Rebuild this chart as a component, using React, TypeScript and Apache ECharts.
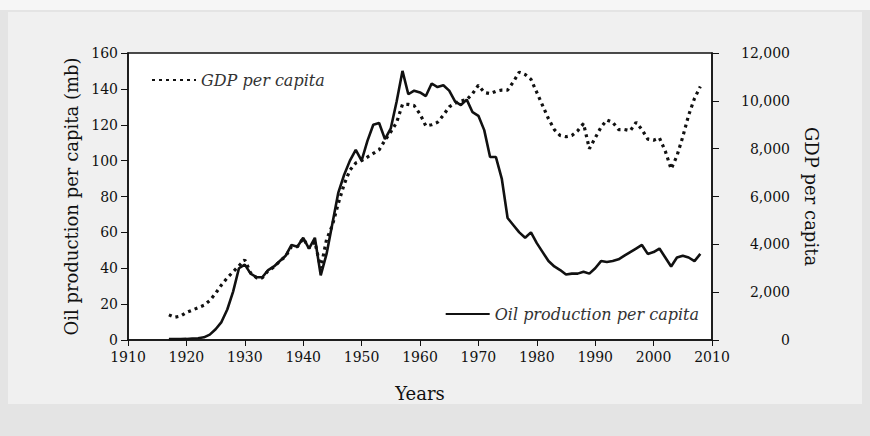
import React, { useEffect, useRef } from "react";
import * as echarts from "echarts";

const years: number[] = [];
for (let y = 1917; y <= 2008; y++) years.push(y);

const oilPerCapita = [
  0.5, 0.5, 0.5, 0.6, 0.8, 1.0, 1.5, 3, 6, 10,
  17, 27, 40, 42, 37, 35, 35, 39, 41, 44,
  47, 53, 52, 57, 51, 57, 36, 48, 65, 82,
  92, 100, 106, 100, 111, 120, 121, 112, 118, 133,
  150, 137, 139, 138, 136, 143, 141, 142, 139, 133,
  131, 134, 127, 125, 117, 102, 102, 90, 68, 64,
  60, 57, 60, 54, 49, 44, 41, 39, 36.5, 37,
  37, 38, 37, 40, 44, 43.5, 44, 45, 47, 49,
  51, 53, 48, 49, 51, 46, 41, 46, 47, 46,
  44, 48,
];

const gdpPerCapita = [
  1050, 950, 1000, 1150, 1250, 1350, 1450, 1650, 1950, 2300,
  2600, 2850, 3100, 3350, 2800, 2600, 2600, 2900, 3050, 3300,
  3500, 3900, 3900, 4250, 3850, 4100, 3000, 4200, 4800, 5700,
  6500, 7100, 7400, 7500, 7650, 7800, 7950, 8350, 8700, 9100,
  9850, 9850, 9800, 9450, 8950, 9000, 9100, 9400, 9750, 9900,
  10000, 10050, 10300, 10650, 10350, 10300, 10400, 10450, 10450, 10800,
  11200, 11100, 10900, 10350, 9800, 9250, 8800, 8550, 8500, 8550,
  8750, 9050, 8000, 8450, 8900, 9200, 9100, 8800, 8800, 8750,
  9100, 8800, 8400, 8350, 8450, 7900, 7150, 7700, 8500, 9400,
  10100, 10600,
];

const xTicks = { min: 1910, max: 2010, interval: 10 };
const leftTicks = { min: 0, max: 160, interval: 20 };
const rightTicks = { min: 0, max: 12000, interval: 2000 };

const FONT = "DejaVu Serif";

export default function App() {
  const ref = useRef<HTMLDivElement>(null);
  useEffect(() => {
    document.body.style.margin = "0";
    const chart = echarts.init(ref.current!, null, { renderer: "svg" });
    const oilData = years.map((y, i) => [y, oilPerCapita[i]]);
    const gdpData = years.map((y, i) => [y, gdpPerCapita[i]]);
    const axisText = { color: "#111", fontFamily: FONT, fontSize: 14 };
    const titleText = { color: "#111", fontFamily: FONT, fontSize: 18 };
    const legendText = { fontFamily: FONT, fontStyle: "italic", fontSize: 16, color: "#333" };
    chart.setOption({
      animation: false,
      backgroundColor: "#e4e4e4",
      graphic: [
        {
          type: "rect",
          z: -10,
          shape: { x: 0, y: 0, width: 870, height: 10 },
          style: { fill: "#f6f6f6" },
        },
        {
          type: "rect",
          z: -10,
          shape: { x: 8, y: 12, width: 854, height: 392 },
          style: { fill: "#f0f0f0" },
        },
      ],
      grid: {
        left: 128,
        right: 158,
        top: 53,
        bottom: 96,
        show: true,
        backgroundColor: "#ffffff",
        borderColor: "#111",
        borderWidth: 1.5,
      },
      legend: [
        {
          data: ["GDP per capita"],
          left: 146,
          top: 67,
          itemWidth: 44,
          itemHeight: 16,
          itemGap: 6,
          itemStyle: { opacity: 0 },
          textStyle: legendText,
        },
        {
          data: ["Oil production per capita"],
          right: 166,
          top: 301,
          itemWidth: 44,
          itemHeight: 16,
          itemGap: 8,
          itemStyle: { opacity: 0 },
          textStyle: legendText,
        },
      ],
      xAxis: {
        type: "value",
        min: xTicks.min,
        max: xTicks.max,
        interval: xTicks.interval,
        name: "Years",
        nameLocation: "middle",
        nameGap: 44,
        nameTextStyle: titleText,
        axisLine: { lineStyle: { color: "#111", width: 1.5 } },
        axisTick: { length: 6, lineStyle: { color: "#111" } },
        axisLabel: { ...axisText, margin: 10, formatter: (v: number) => String(v) },
        splitLine: { show: false },
      },
      yAxis: [
        {
          type: "value",
          min: leftTicks.min,
          max: leftTicks.max,
          interval: leftTicks.interval,
          name: "Oil production per capita (mb)",
          nameLocation: "middle",
          nameGap: 46,
          nameTextStyle: titleText,
          axisLine: { show: true, lineStyle: { color: "#111", width: 1.5 } },
          axisTick: { show: true, length: 7, lineStyle: { color: "#111" } },
          axisLabel: { ...axisText, margin: 10 },
          splitLine: { show: false },
        },
        {
          type: "value",
          position: "right",
          min: rightTicks.min,
          max: rightTicks.max,
          interval: rightTicks.interval,
          name: "GDP per capita",
          nameLocation: "middle",
          nameRotate: -90,
          nameGap: 90,
          nameTextStyle: titleText,
          axisLine: { show: true, lineStyle: { color: "#111", width: 1.5 } },
          axisTick: { show: true, length: 7, lineStyle: { color: "#111" } },
          axisLabel: {
            ...axisText,
            margin: 78,
            align: "right",
            formatter: (v: number) => v.toLocaleString("en-US"),
          },
          splitLine: { show: false },
        },
      ],
      series: [
        {
          name: "GDP per capita",
          type: "line",
          yAxisIndex: 1,
          data: gdpData,
          symbol: "none",
          lineStyle: { color: "#111", width: 3.2, type: [3, 4] },
          itemStyle: { color: "#111" },
          z: 2,
        },
        {
          name: "Oil production per capita",
          type: "line",
          yAxisIndex: 0,
          data: oilData,
          symbol: "none",
          lineStyle: { color: "#111", width: 2.6, type: "solid" },
          itemStyle: { color: "#111" },
          z: 3,
        },
      ],
    });
    return () => chart.dispose();
  }, []);
  return <div ref={ref} style={{ width: 870, height: 436 }} />;
}
